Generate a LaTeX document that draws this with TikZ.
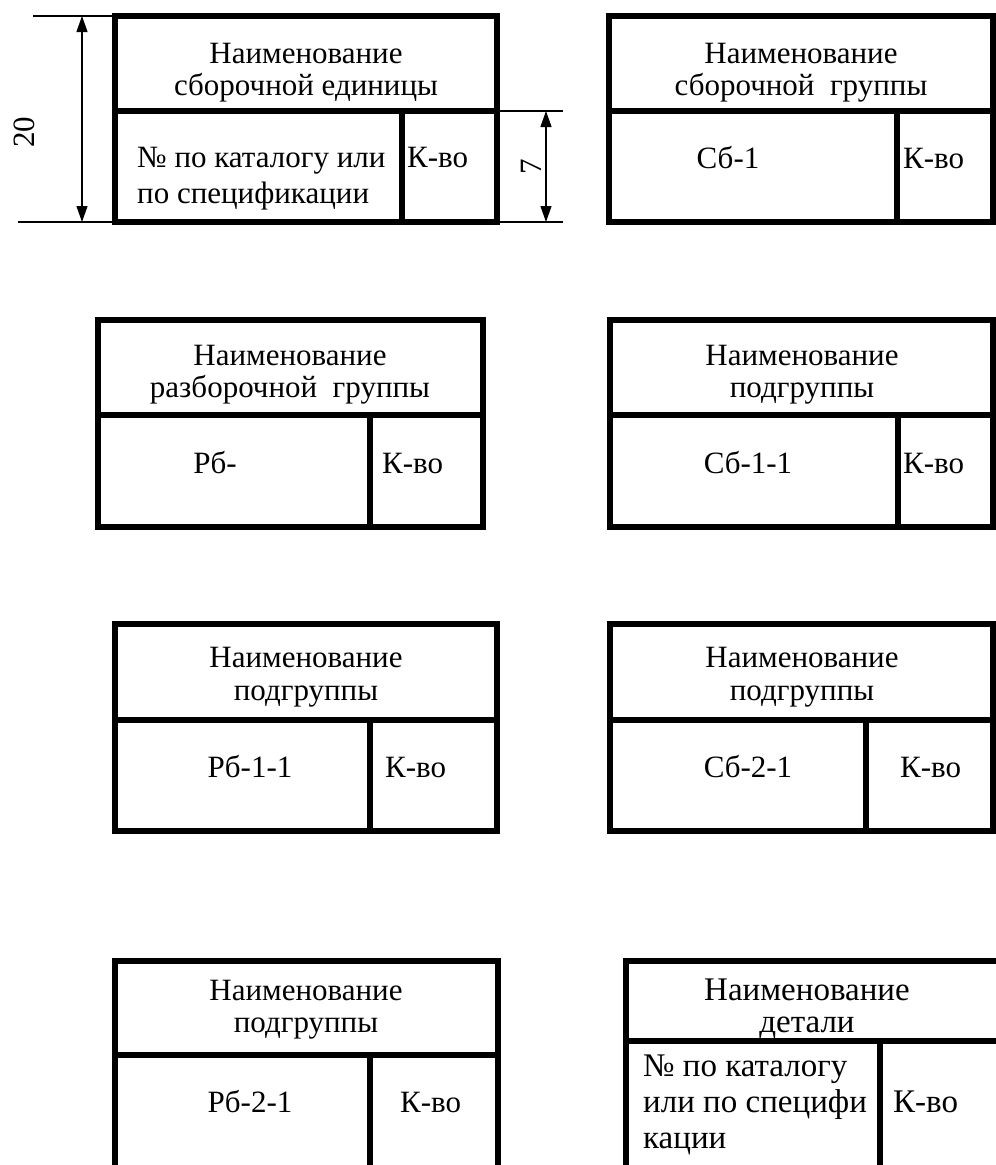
\documentclass[tikz,border=0pt]{standalone}
\usepackage{fontspec}
\setmainfont{Liberation Serif}
\usetikzlibrary{arrows.meta}
\tikzset{
  boxline/.style={line width=5.5pt, line join=miter},
  dimline/.style={line width=1.2pt},
  dimarrow/.style={dimline, {Triangle[length=16pt,width=11pt]}-{Triangle[length=16pt,width=11pt]}},
  txt/.style={font=\fontsize{31}{34}\selectfont, inner sep=0pt, anchor=base},
  txtl/.style={txt, anchor=base west},
  txtb/.style={font=\fontsize{33}{36}\selectfont, inner sep=0pt, anchor=base},
  txtbl/.style={txtb, anchor=base west},
}
\begin{document}
\begin{tikzpicture}[x=1pt,y=-1pt]
\path[use as bounding box] (0,0) rectangle (996,1165);
\clip (0,0) rectangle (996,1165);
\fill[white] (0,0) rectangle (996,1165);

% ---- Box 1: сборочная единица
\draw[boxline] (115,16) rectangle (497,222);
\draw[boxline] (115,111) -- (497,111);
\draw[boxline] (402,111) -- (402,222);
\node[txt] (b1a) at (306,63) {Наименование};
\node[txt] (b1b) at (306,95) {сборочной единицы};
\node[txtl] (b1c) at (137,167) {№ по каталогу или};
\node[txtl] (b1d) at (137,203) {по спецификации};
\node[txtl] (b1e) at (407,167) {К-во};

% dimension 20
\coordinate (d20t) at (82,16);
\coordinate (d20b) at (82,222);
\coordinate (e20t1) at (33,16);
\coordinate (e20t2) at (112,16);
\coordinate (e20b1) at (18,222);
\coordinate (e20b2) at (112,222);
\draw[dimline] (e20t1) -- (e20t2);
\draw[dimline] (e20b1) -- (e20b2);
\draw[dimarrow] (d20t) -- (d20b);
\node[font=\fontsize{31}{34}\selectfont, inner sep=0pt, rotate=90] (l20) at (24,132) {20};

% dimension 7
\coordinate (e7t1) at (500,111);
\coordinate (e7t2) at (563,111);
\coordinate (e7b1) at (500,222);
\coordinate (e7b2) at (563,222);
\coordinate (d7t) at (546,111);
\coordinate (d7b) at (546,222);
\draw[dimline] (e7t1) -- (e7t2);
\draw[dimline] (e7b1) -- (e7b2);
\draw[dimarrow] (d7t) -- (d7b);
\node[font=\fontsize{31}{34}\selectfont, inner sep=0pt, rotate=90] (l7) at (531,167) {7};

% ---- Box 2: сборочная группа
\draw[boxline] (609,16) rectangle (993,222);
\draw[boxline] (609,111) -- (993,111);
\draw[boxline] (897,111) -- (897,222);
\node[txt] (b2a) at (801,63) {Наименование};
\node[txt] (b2b) at (801,95) {сборочной\ \ группы};
\node[txt] (b2c) at (728,168) {Сб-1};
\node[txtl] (b2d) at (903,168) {К-во};

% ---- Box 3: разборочная группа
\draw[boxline] (98,320) rectangle (483,527);
\draw[boxline] (98,415) -- (483,415);
\draw[boxline] (370,415) -- (370,527);
\node[txt] (b3a) at (290,365) {Наименование};
\node[txt] (b3b) at (290,397) {разборочной\ \ группы};
\node[txt] (b3c) at (215,473) {Рб-};
\node[txtl] (b3d) at (382,473) {К-во};

% ---- Box 4: подгруппа Сб-1-1
\draw[boxline] (610,320) rectangle (993,527);
\draw[boxline] (610,415) -- (993,415);
\draw[boxline] (898,415) -- (898,527);
\node[txt] (b4a) at (802,365) {Наименование};
\node[txt] (b4b) at (802,397) {подгруппы};
\node[txt] (b4c) at (748,473) {Сб-1-1};
\node[txtl] (b4d) at (903,473) {К-во};

% ---- Box 5: подгруппа Рб-1-1
\draw[boxline] (115,624) rectangle (497,831);
\draw[boxline] (115,720) -- (497,720);
\draw[boxline] (370,720) -- (370,831);
\node[txt] (b5a) at (306,667) {Наименование};
\node[txt] (b5b) at (306,700) {подгруппы};
\node[txt] (b5c) at (250,777) {Рб-1-1};
\node[txtl] (b5d) at (385,777) {К-во};

% ---- Box 6: подгруппа Сб-2-1
\draw[boxline] (610,624) rectangle (993,831);
\draw[boxline] (610,720) -- (993,720);
\draw[boxline] (866,720) -- (866,831);
\node[txt] (b6a) at (802,667) {Наименование};
\node[txt] (b6b) at (802,700) {подгруппы};
\node[txt] (b6c) at (748,777) {Сб-2-1};
\node[txtl] (b6d) at (900,777) {К-во};

% ---- Box 7: подгруппа Рб-2-1 (cut at bottom)
\draw[boxline] (115,961) rectangle (498,1200);
\draw[boxline] (115,1055) -- (498,1055);
\draw[boxline] (370,1055) -- (370,1200);
\node[txt] (b7a) at (306,1000) {Наименование};
\node[txt] (b7b) at (306,1032) {подгруппы};
\node[txt] (b7c) at (250,1112) {Рб-2-1};
\node[txtl] (b7d) at (400,1112) {К-во};

% ---- Box 8: деталь (cut at bottom and right)
\draw[boxline] (626,961) rectangle (1030,1200);
\draw[boxline] (626,1041) -- (1030,1041);
\draw[boxline] (880,1041) -- (880,1200);
\node[txtb] (b8a) at (807,1000) {Наименование};
\node[txtb] (b8b) at (807,1032) {детали};
\node[txtbl] (b8c) at (643,1076) {№ по каталогу};
\node[txtbl] (b8d) at (643,1112) {или по специфи};
\node[txtbl] (b8e) at (643,1148) {кации};
\node[txtbl] (b8f) at (893,1112) {К-во};
\end{tikzpicture}
\end{document}
